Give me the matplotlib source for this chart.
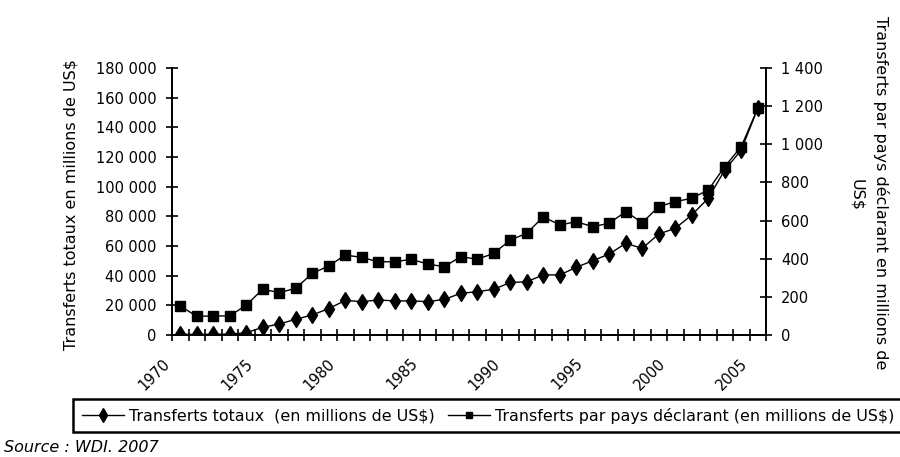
import numpy as np
import matplotlib
matplotlib.use('Agg')
import matplotlib.pyplot as plt
import matplotlib.ticker as mticker
import matplotlib.transforms as mtransforms
from matplotlib.lines import Line2D

# Données (WDI 2007)
years = list(range(1970, 2006))

# Transferts totaux (en millions de US$) - axe de gauche
transferts_totaux = [500, 400, 500, 600, 1550, 5200, 7400, 10600, 13500, 17800,
                     23300, 22500, 23600, 23000, 23000, 22500, 24000, 28100, 29200, 30800,
                     35400, 35900, 40500, 40500, 45600, 50100, 54600, 61800, 58400, 68100,
                     71900, 80900, 92200, 111200, 124700, 152800]

# Transferts par pays déclarant (en millions de US$) - axe de droite
transferts_par_pays = [152, 98, 100, 100, 157, 240, 222, 245, 323, 362,
                       419, 407, 384, 384, 397, 372, 358, 411, 397, 428,
                       498, 533, 620, 577, 594, 568, 586, 647, 589, 673,
                       699, 717, 760, 883, 988, 1189]

label_years = [1970, 1975, 1980, 1985, 1990, 1995, 2000, 2005]

plt.rcParams['font.family'] = ['DejaVu Sans']
plt.rcParams['font.size'] = 10


def fmt_milliers(v, pos):
    # séparateur de milliers = espace
    return f"{int(round(v)):,}".replace(',', ' ')


fig = plt.figure(figsize=(9, 4.57), dpi=100)
ax = fig.add_axes([172 / 900, 1 - 335 / 457, (766 - 172) / 900, (335 - 68) / 457])
ax2 = ax.twinx()

x = np.arange(len(years))

ax.plot(x, transferts_totaux, color='black', linewidth=1, marker='d',
        markersize=8.5, zorder=3)
ax2.plot(x, transferts_par_pays, color='black', linewidth=1, marker='s',
         markersize=7, zorder=3)

ax.set_xlim(-0.5, len(years) - 0.5)
ax.set_ylim(0, 180000)
ax2.set_ylim(0, 1400)
ax.yaxis.set_major_locator(mticker.MultipleLocator(20000))
ax2.yaxis.set_major_locator(mticker.MultipleLocator(200))
ax.yaxis.set_major_formatter(mticker.FuncFormatter(fmt_milliers))
ax2.yaxis.set_major_formatter(mticker.FuncFormatter(fmt_milliers))

# axes: pas de cadre en haut
for a in (ax, ax2):
    a.spines['top'].set_visible(False)
    for s in ('left', 'right', 'bottom'):
        a.spines[s].set_linewidth(1.3)
        a.spines[s].set_color('black')

ax.tick_params(axis='y', direction='inout', length=8, width=1.2, pad=7, labelsize=10.5)
ax2.tick_params(axis='y', direction='inout', length=8, width=1.2, pad=7, labelsize=10.5)

# graduations de l'axe des x entre les catégories, étiquettes tous les 5 ans
ax.set_xticks(np.arange(-0.5, len(years), 1), minor=True)
ax.tick_params(axis='x', which='minor', direction='inout', length=8, width=1.2)
ax.set_xticks([years.index(y) for y in label_years])
ax.set_xticklabels([str(y) for y in label_years], rotation=45, ha='right', va='top')
ax.tick_params(axis='x', which='major', length=0, pad=15, labelsize=10.5)
shift = mtransforms.ScaledTranslation(-7 / 100, 0, fig.dpi_scale_trans)
for lab in ax.get_xticklabels():
    lab.set_transform(lab.get_transform() + shift)

# titres des axes
fig.text(71 / 900, 1 - 205 / 457, 'Transferts totaux en millions de US$',
         rotation=90, ha='center', va='center', fontsize=11.5)
fig.text(881 / 900, 1 - 193 / 457, 'Transferts par pays déclarant en millions de',
         rotation=270, ha='center', va='center', fontsize=11.5)
fig.text(857 / 900, 1 - 195 / 457, 'US$', rotation=270, ha='center', va='center',
         fontsize=11.5)

# légende en bas
handles = [
    Line2D([], [], color='black', linewidth=1, marker='d', markersize=7),
    Line2D([], [], color='black', linewidth=1, marker='s', markersize=5),
]
labels = ['Transferts totaux  (en millions de US$)',
          'Transferts par pays déclarant (en millions de US$)']
leg = fig.legend(handles, labels, loc='upper left',
                 bbox_to_anchor=(73 / 900, 1 - 399 / 457), ncol=2,
                 frameon=True, fancybox=False, edgecolor='black', framealpha=1,
                 handlelength=2.7, handletextpad=0.3, columnspacing=0.8,
                 borderpad=0.55, borderaxespad=0, fontsize=11.4)
leg.get_frame().set_linewidth(1.8)

fig.text(4 / 900, 1 - 448 / 457, 'Source : WDI. 2007', style='italic',
         ha='left', va='center', fontsize=11.5)

plt.savefig('out.png', dpi=100)
plt.close()
